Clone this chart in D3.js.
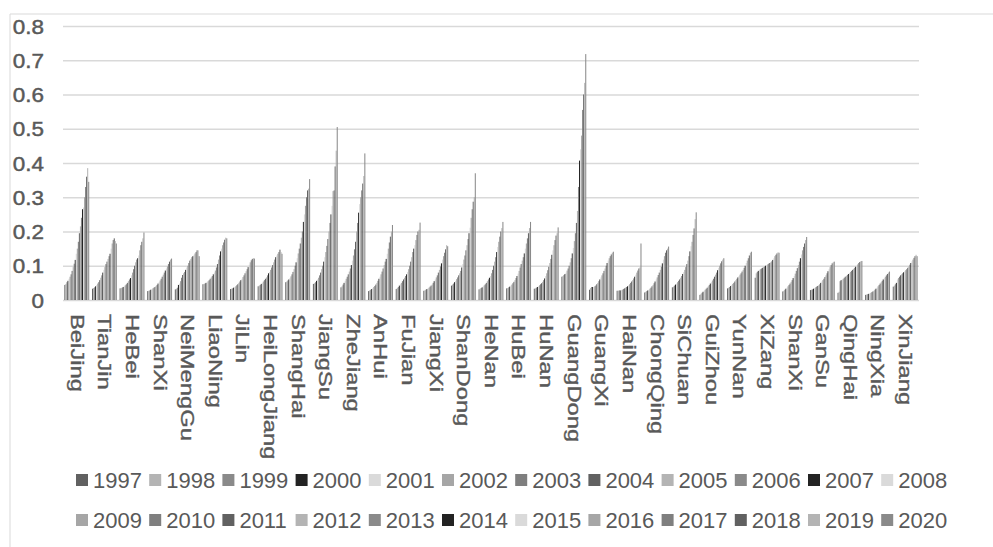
<!DOCTYPE html>
<html>
<head>
<meta charset="utf-8">
<script src="https://cdn.jsdelivr.net/npm/d3@7"></script>
<style>
  body { margin: 0; background: #fff; }
  text { font-family: "Liberation Sans", Arial, sans-serif; fill: #595959; }
</style>
</head>
<body>
<div id="chart"></div>
<script>
const provinces = ["BeiJing","TianJin","HeBei","ShanXi","NeiMengGu","LiaoNing","JiLin","HeiLongJiang",
  "ShangHai","JiangSu","ZheJiang","AnHui","FuJian","JiangXi","ShanDong","HeNan","HuBei","HuNan",
  "GuangDong","GuangXi","HaiNan","ChongQing","SiChuan","GuiZhou","YunNan","XiZang","ShanXi ",
  "GanSu","QingHai","NingXia","XinJiang"];

const years = d3.range(1997, 2021).map(String);

const yTicks = [0, 0.1, 0.2, 0.3, 0.4, 0.5, 0.6, 0.7, 0.8];

// one row per province, 1997..2020
const values = [
  [0.044,0.047,0.052,0.056,0.062,0.068,0.075,0.085,0.096,0.106,0.117,0.135,0.150,0.170,0.195,0.215,0.240,0.265,0.270,0.300,0.330,0.360,0.385,0.345], // BeiJing
  [0.033,0.035,0.037,0.040,0.044,0.048,0.052,0.058,0.065,0.072,0.080,0.088,0.096,0.105,0.112,0.120,0.128,0.135,0.150,0.165,0.175,0.180,0.172,0.165], // TianJin
  [0.034,0.035,0.036,0.038,0.040,0.043,0.046,0.050,0.055,0.060,0.064,0.072,0.080,0.090,0.100,0.110,0.118,0.122,0.130,0.145,0.160,0.170,0.180,0.197], // HeBei
  [0.026,0.027,0.028,0.030,0.032,0.034,0.036,0.038,0.041,0.044,0.048,0.052,0.057,0.062,0.068,0.074,0.080,0.086,0.092,0.098,0.105,0.112,0.118,0.121], // ShanXi
  [0.031,0.033,0.036,0.044,0.048,0.055,0.065,0.073,0.078,0.082,0.088,0.095,0.100,0.108,0.115,0.120,0.125,0.128,0.132,0.136,0.140,0.145,0.145,0.128], // NeiMengGu
  [0.046,0.047,0.048,0.050,0.052,0.055,0.058,0.062,0.066,0.070,0.075,0.080,0.086,0.095,0.105,0.118,0.130,0.142,0.150,0.160,0.168,0.176,0.182,0.180], // LiaoNing
  [0.032,0.033,0.034,0.036,0.038,0.040,0.043,0.046,0.050,0.054,0.058,0.062,0.067,0.072,0.078,0.084,0.090,0.096,0.103,0.110,0.116,0.120,0.122,0.121], // JiLin
  [0.040,0.042,0.044,0.047,0.050,0.054,0.058,0.062,0.066,0.072,0.078,0.082,0.088,0.095,0.102,0.110,0.118,0.125,0.130,0.135,0.140,0.147,0.140,0.135], // HeiLongJiang
  [0.052,0.054,0.057,0.060,0.064,0.069,0.075,0.082,0.090,0.100,0.110,0.122,0.136,0.150,0.165,0.182,0.200,0.228,0.250,0.275,0.300,0.320,0.325,0.353], // ShangHai
  [0.047,0.049,0.052,0.056,0.060,0.065,0.072,0.080,0.090,0.100,0.112,0.125,0.140,0.158,0.178,0.200,0.225,0.250,0.275,0.318,0.320,0.390,0.436,0.505], // JiangSu
  [0.037,0.040,0.045,0.050,0.056,0.062,0.068,0.075,0.083,0.092,0.102,0.115,0.130,0.148,0.170,0.200,0.225,0.255,0.280,0.300,0.320,0.340,0.362,0.428], // ZheJiang
  [0.026,0.028,0.030,0.032,0.035,0.038,0.041,0.045,0.050,0.056,0.062,0.068,0.075,0.083,0.092,0.102,0.112,0.120,0.135,0.150,0.168,0.185,0.200,0.219], // AnHui
  [0.032,0.035,0.038,0.042,0.046,0.050,0.055,0.060,0.065,0.070,0.075,0.082,0.090,0.100,0.112,0.125,0.140,0.150,0.160,0.175,0.190,0.200,0.205,0.226], // FuJian
  [0.027,0.028,0.030,0.032,0.034,0.036,0.039,0.042,0.045,0.050,0.055,0.060,0.066,0.072,0.080,0.088,0.098,0.107,0.118,0.128,0.138,0.148,0.160,0.157], // JiangXi
  [0.042,0.045,0.048,0.052,0.056,0.061,0.066,0.072,0.078,0.085,0.095,0.105,0.118,0.130,0.145,0.160,0.178,0.195,0.211,0.240,0.265,0.287,0.300,0.370], // ShanDong
  [0.031,0.033,0.035,0.037,0.040,0.043,0.046,0.050,0.055,0.060,0.065,0.070,0.078,0.088,0.100,0.112,0.125,0.140,0.155,0.170,0.185,0.200,0.210,0.228], // HeNan
  [0.034,0.035,0.037,0.039,0.042,0.045,0.049,0.053,0.058,0.064,0.070,0.077,0.085,0.095,0.105,0.115,0.125,0.136,0.150,0.165,0.180,0.195,0.210,0.228], // HuBei
  [0.033,0.034,0.036,0.038,0.040,0.043,0.046,0.049,0.053,0.058,0.063,0.070,0.078,0.087,0.097,0.108,0.120,0.132,0.145,0.160,0.175,0.188,0.195,0.212], // HuNan
  [0.068,0.070,0.073,0.076,0.080,0.086,0.092,0.100,0.110,0.122,0.136,0.152,0.172,0.195,0.225,0.260,0.330,0.407,0.440,0.480,0.555,0.600,0.634,0.718], // GuangDong
  [0.030,0.035,0.038,0.038,0.036,0.040,0.042,0.046,0.050,0.055,0.060,0.066,0.072,0.078,0.085,0.092,0.100,0.108,0.115,0.122,0.128,0.133,0.138,0.141], // GuangXi
  [0.027,0.027,0.028,0.028,0.029,0.030,0.032,0.034,0.036,0.038,0.040,0.043,0.046,0.050,0.054,0.058,0.063,0.068,0.074,0.080,0.086,0.092,0.095,0.165], // HaiNan
  [0.022,0.024,0.026,0.028,0.030,0.033,0.036,0.040,0.044,0.049,0.054,0.060,0.066,0.073,0.080,0.088,0.097,0.107,0.118,0.128,0.138,0.145,0.150,0.156], // ChongQing
  [0.037,0.039,0.042,0.045,0.048,0.052,0.056,0.060,0.065,0.070,0.076,0.082,0.088,0.096,0.105,0.115,0.128,0.142,0.157,0.170,0.190,0.209,0.236,0.256], // SiChuan
  [0.015,0.018,0.021,0.024,0.027,0.030,0.033,0.036,0.040,0.044,0.048,0.052,0.057,0.062,0.068,0.074,0.080,0.087,0.094,0.100,0.107,0.113,0.118,0.122], // GuiZhou
  [0.034,0.036,0.038,0.041,0.044,0.047,0.050,0.054,0.058,0.062,0.066,0.070,0.074,0.078,0.083,0.088,0.094,0.100,0.108,0.115,0.122,0.130,0.138,0.141], // YunNan
  [0.065,0.078,0.082,0.085,0.088,0.090,0.092,0.094,0.096,0.098,0.100,0.102,0.104,0.106,0.108,0.110,0.113,0.117,0.122,0.128,0.132,0.136,0.139,0.138], // XiZang
  [0.025,0.027,0.030,0.033,0.036,0.040,0.044,0.048,0.053,0.058,0.064,0.070,0.077,0.085,0.093,0.102,0.112,0.122,0.133,0.145,0.155,0.165,0.175,0.184], // ShanXi (Shaanxi)
  [0.029,0.030,0.031,0.033,0.035,0.037,0.039,0.041,0.043,0.046,0.050,0.054,0.058,0.062,0.067,0.072,0.078,0.084,0.090,0.096,0.102,0.107,0.110,0.112], // GanSu
  [0.021,0.024,0.055,0.058,0.060,0.062,0.065,0.068,0.070,0.073,0.076,0.079,0.082,0.085,0.088,0.091,0.094,0.097,0.100,0.104,0.108,0.111,0.113,0.114], // QingHai
  [0.015,0.016,0.017,0.018,0.019,0.021,0.023,0.025,0.027,0.030,0.033,0.036,0.040,0.044,0.048,0.052,0.056,0.060,0.064,0.068,0.072,0.076,0.080,0.083], // NingXia
  [0.039,0.042,0.046,0.050,0.060,0.064,0.068,0.072,0.075,0.078,0.081,0.084,0.087,0.090,0.094,0.098,0.103,0.108,0.113,0.118,0.123,0.128,0.132,0.128]  // XinJiang
];

// grey palette that repeats every 7 series
const greys = ["#616161","#b4b4b4","#8a8a8a","#232323","#dadada","#a6a6a6","#7f7f7f"];

const width = 993, height = 547;
const mLeft = 63, mRight = 919, mTop = 26, mBottom = 300;

const svg = d3.select("#chart")
  .append("svg")
  .attr("width", width)
  .attr("height", height);

// chart frame (cut at right and bottom)
svg.append("path")
  .attr("d", `M10,547 L10,14 L993,14`)
  .attr("fill", "none")
  .attr("stroke", "#d9d9d9")
  .attr("stroke-width", 1);

const x0 = d3.scaleBand()
  .domain(provinces)
  .range([mLeft, mRight])
  .paddingInner(0.1)
  .paddingOuter(0.05);

const x1 = d3.scaleBand()
  .domain(years)
  .range([0, x0.bandwidth()]);

const y = d3.scaleLinear()
  .domain([0, 0.8])
  .range([mBottom, mTop]);

const color = d3.scaleOrdinal()
  .domain(years)
  .range(years.map((d, i) => greys[i % 7]));

// y axis with gridlines
const yAxis = svg.append("g")
  .attr("transform", `translate(${mLeft},0)`)
  .call(d3.axisLeft(y).tickValues(yTicks).tickSize(-(mRight - mLeft)).tickFormat(d3.format("~g")));
yAxis.select(".domain").remove();
yAxis.selectAll(".tick line")
  .attr("stroke", "#d9d9d9")
  .attr("stroke-width", 1.5);
yAxis.selectAll(".tick text")
  .attr("x", 0)
  .attr("dy", "0.36em")
  .attr("transform", "translate(-19,0) scale(1.15,1)")
  .style("font-size", "19.5px")
  .style("font-family", "'Liberation Sans', Arial, sans-serif")
  .attr("fill", "#595959")
  .attr("stroke", "#595959")
  .attr("stroke-width", 0.45);

// bars
const groups = svg.append("g")
  .selectAll("g")
  .data(provinces)
  .join("g")
  .attr("transform", d => `translate(${x0(d)},0)`);

groups.selectAll("rect")
  .data((p, i) => years.map((yr, j) => ({year: yr, value: values[i][j]})))
  .join("rect")
  .attr("x", d => x1(d.year))
  .attr("y", d => y(d.value))
  .attr("width", x1.bandwidth())
  .attr("height", d => y(0) - y(d.value))
  .attr("fill", d => color(d.year));

// x axis labels, rotated
const xAxis = svg.append("g")
  .attr("transform", `translate(0,${mBottom})`)
  .call(d3.axisBottom(x0).tickSize(0));
xAxis.select(".domain").remove();
xAxis.selectAll(".tick text")
  .attr("x", 0)
  .attr("y", 0)
  .attr("dy", "0.35em")
  .attr("text-anchor", "start")
  .attr("transform", "translate(0,14) rotate(90) scale(1.36,1)")
  .style("font-size", "17.5px")
  .style("font-family", "'Liberation Sans', Arial, sans-serif")
  .attr("fill", "#595959")
  .attr("stroke", "#595959")
  .attr("stroke-width", 0.35);

// Legend
const legend = svg.append("g")
  .selectAll("g")
  .data(years)
  .join("g")
  .attr("transform", (d, i) => `translate(${76 + (i % 12) * 73.2},${480 + Math.floor(i / 12) * 40})`);

legend.append("rect")
  .attr("x", 0)
  .attr("y", -6)
  .attr("width", 12)
  .attr("height", 12)
  .attr("fill", d => color(d));

legend.append("text")
  .attr("x", 17)
  .attr("y", 0)
  .attr("dy", "0.36em")
  .style("font-size", "22px")
  .text(d => d);
</script>
</body>
</html>
